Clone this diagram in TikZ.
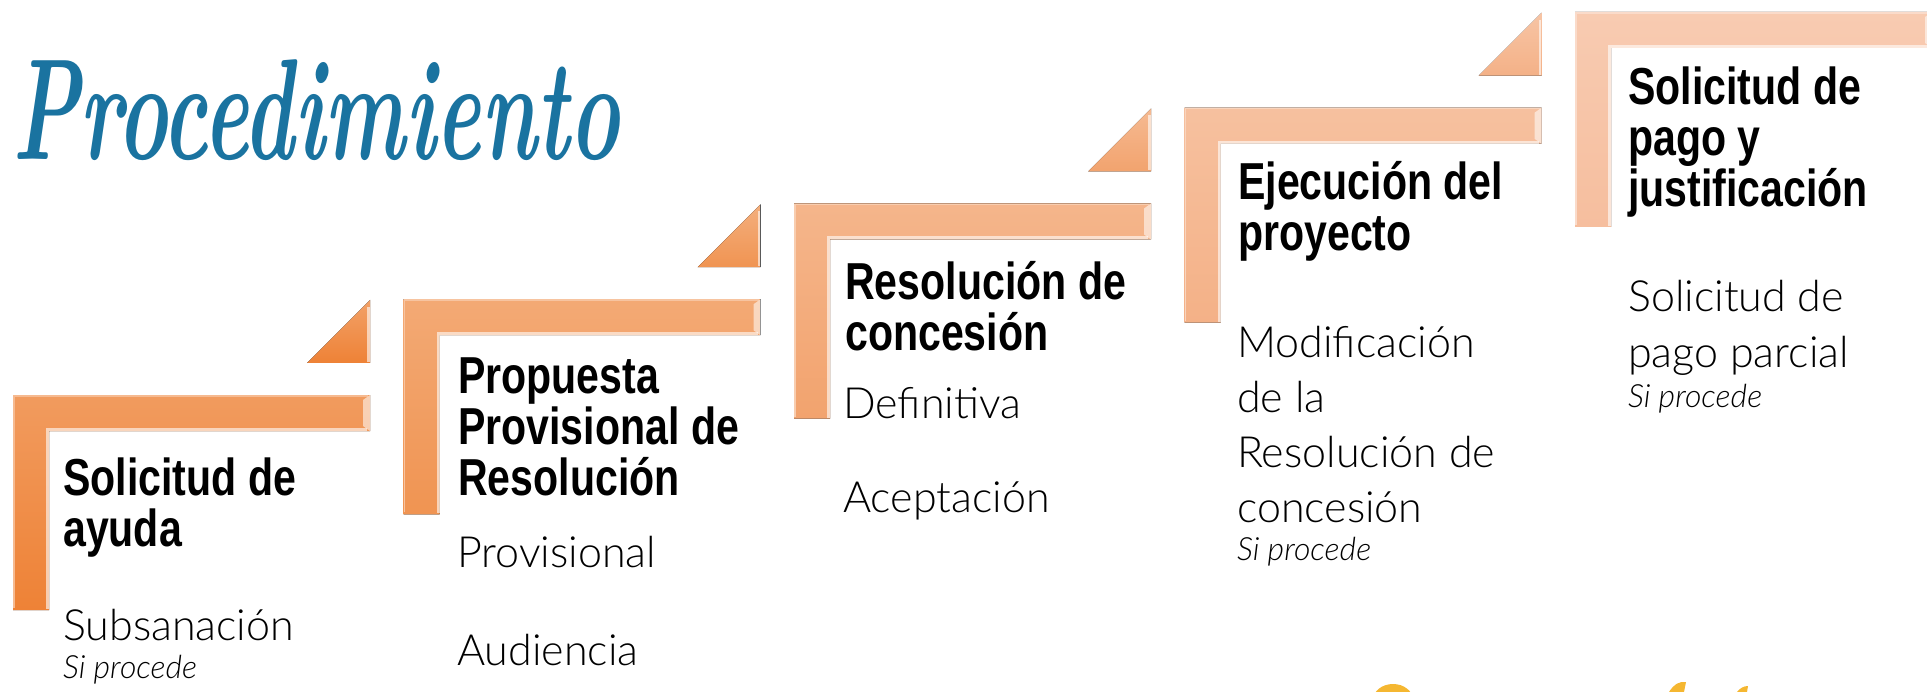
\documentclass[tikz,border=0pt]{standalone}
\usepackage{fontspec}
\usepackage{graphicx}
\newfontfamily\headfont{Liberation Sans}[FakeStretch=0.79]
\newfontfamily\bodyfont{Lato Light}[ItalicFont={Lato Light Italic}]
\definecolor{stepone}{HTML}{EE8236}
\definecolor{steptwo}{HTML}{F09452}
\definecolor{stepthree}{HTML}{F2A36E}
\definecolor{stepfour}{HTML}{F4B187}
\definecolor{stepfive}{HTML}{F6BE9E}
\definecolor{titleblue}{HTML}{1A73A0}
\definecolor{signyellow}{HTML}{F5B731}

\begin{document}
\begin{tikzpicture}[x=1pt,y=-1pt]
        \tikzset{heading/.style={font=\headfont\bfseries\fontsize{52}{51}\selectfont,
                    align=left, anchor=base west, inner sep=0pt},
                 detail/.style={font=\bodyfont\fontsize{43}{55}\selectfont,
                    align=left, anchor=base west, inner sep=0pt},
                 note/.style={font=\bodyfont\itshape\fontsize{32}{32}\selectfont,
                    anchor=base west, inner sep=0pt}}

        \useasboundingbox (0,0) rectangle (1927,692);
        \clip (0,0) rectangle (1927,692);

        \foreach \i/\col in {0/stepone, 1/steptwo, 2/stepthree, 3/stepfour, 4/stepfive}{
            \pgfmathsetmacro{\L}{13+390.5*\i}
            \pgfmathsetmacro{\T}{395-95.75*\i}
            \fill[top color=\col!80!white, bottom color=\col] (\L,\T) -- ++(357,0) -- ++(0,36)
                -- ++(-321,0) -- ++(0,179) -- ++(-36,0) -- cycle;
            \draw[\col!55!white, line width=1.5pt] (\L+1,\T+213) -- (\L+1,\T+1) -- (\L+355,\T+1);
            \draw[white, opacity=.6, line width=3pt] (\L+354,\T+34.5) -- (\L+34.5,\T+34.5) -- (\L+34.5,\T+214);
            \fill[white, opacity=.55] (\L+357,\T) -- ++(0,36) -- ++(-7,-5) -- ++(0,-26) -- cycle;
            \fill[top color=\col!75!white, bottom color=\col] (\L+294,\T-32) -- (\L+357,\T-32)
                -- (\L+357,\T-95) -- cycle;
            \draw[white, opacity=.6, line width=2.5pt] (\L+355.5,\T-88) -- (\L+355.5,\T-33);
        }

        \node (title) [anchor=base west, inner sep=0pt, text=titleblue, font=\bfseries\itshape]
            at (12,160) {\resizebox{608pt}{100pt}{Procedimiento}};

        % multi-line nodes sit on the baseline of their last line
        \node (solicitud) [heading] at (63,546) {Solicitud de\\ayuda};
        \node (propuesta) [heading] at (458,495) {Propuesta\\Provisional de\\Resolución};
        \node (resolucion) [heading] at (845,351) {Resolución de\\concesión};
        \node (ejecucion) [heading] at (1238,251) {Ejecución del\\proyecto};
        \node (pago) [heading] at (1628,207) {Solicitud de\\pago y\\justificación};

        \node (subsanacion) [detail] at (63,640) {Subsanación};
        \node (subsanacionnote) [note] at (63,678) {Si procede};
        \node (provisional) [detail] at (457,567) {Provisional};
        \node (audiencia) [detail] at (457,665) {Audiencia};
        \node (definitiva) [detail] at (843,418) {Definitiva};
        \node (aceptacion) [detail] at (843,512) {Aceptación};
        \node (modificacion) [detail] at (1237,522) {Modificación\\de la\\Resolución de\\concesión};
        \node (modificacionnote) [note] at (1237,560) {Si procede};
        \node (parcial) [detail] at (1628,367) {Solicitud de\\pago parcial};
        \node (parcialnote) [note] at (1628,407) {Si procede};

        \fill[signyellow] (1393,700) ellipse [x radius=20pt, y radius=16pt];
        \fill[signyellow] (1669,692) .. controls (1674,684) and (1680,681) .. (1686,682) -- (1684,692) -- cycle;
        \fill[signyellow] (1737,692) .. controls (1740,688) and (1744,686) .. (1748,686) -- (1747,692) -- cycle;
\end{tikzpicture}
\end{document}
